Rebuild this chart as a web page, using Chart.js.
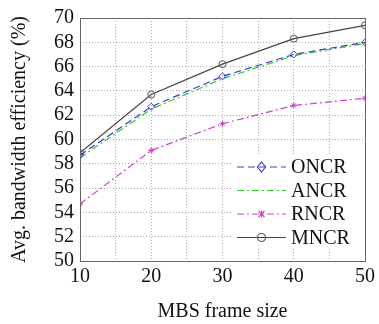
<!DOCTYPE html>
<html>
<head>
<meta charset="utf-8">
<script src="https://cdn.jsdelivr.net/npm/chart.js@4/dist/chart.umd.min.js"></script>
<style>
  html, body { margin: 0; padding: 0; background: #fff; }
  #wrap { width: 379px; height: 324px; }
</style>
</head>
<body>
<div id="wrap"><canvas id="chart" width="379" height="324"></canvas></div>
<script>
var frameSizes = [10, 20, 30, 40, 50];
var oncr = [58.7, 62.7, 65.2, 67.0, 68.0];
var ancr = [58.5, 62.5, 65.0, 66.9, 67.9];
var rncr = [54.7, 59.1, 61.3, 62.8, 63.4];
var mncr = [58.9, 63.7, 66.2, 68.3, 69.4];
var yTicks = [50, 52, 54, 56, 58, 60, 62, 64, 66, 68, 70];

function pts(vals) {
  return vals.map(function (v, i) { return { x: frameSizes[i], y: v }; });
}

var serif = "'Liberation Serif', 'Times New Roman', serif";

// box around the plot + legend drawn like the matlab one
var frameAndLegend = {
  id: 'frameAndLegend',
  afterDraw: function (chart) {
    var c = chart.ctx, a = chart.chartArea;
    c.save();
    c.strokeStyle = '#666';
    c.lineWidth = 1;
    c.setLineDash([]);
    c.strokeRect(a.left + 0.5, a.top + 0.5, a.right - a.left, a.bottom - a.top);

    var x0 = 237, x1 = 286, y = 167, step = 23.5;
    c.fillStyle = '#fff';
    c.fillRect(x0 - 5, y - 12, 132, step * 4);
    chart.data.datasets.forEach(function (ds, i) {
      var yy = y + i * step;
      c.strokeStyle = ds.borderColor;
      c.lineWidth = 1.2;
      c.setLineDash(ds.borderDash || []);
      c.beginPath(); c.moveTo(x0, yy); c.lineTo(x1, yy); c.stroke();
      c.setLineDash([]);
      var mx = (x0 + x1) / 2, r = 4;
      c.strokeStyle = ds.pointBorderColor;
      c.beginPath();
      if (ds.pointStyle === 'rectRot') {
        c.moveTo(mx, yy - r - 1); c.lineTo(mx + r, yy); c.lineTo(mx, yy + r + 1); c.lineTo(mx - r, yy); c.closePath();
      } else if (ds.pointStyle === 'circle') {
        c.arc(mx, yy, r, 0, Math.PI * 2);
      } else if (ds.pointStyle === 'star') {
        c.moveTo(mx - 3, yy - 3); c.lineTo(mx + 3, yy + 3);
        c.moveTo(mx + 3, yy - 3); c.lineTo(mx - 3, yy + 3);
        c.moveTo(mx, yy - 3.5); c.lineTo(mx, yy + 3.5);
      }
      if (ds.pointRadius > 0) c.stroke();
      c.fillStyle = '#111';
      c.font = '20px ' + serif;
      c.textBaseline = 'middle';
      c.fillText(ds.label, 291, yy + 1);
    });
    c.restore();
  }
};

new Chart(document.getElementById('chart').getContext('2d'), {
  type: 'line',
  data: {
    datasets: [
      { label: 'ONCR', data: pts(oncr), borderColor: '#3a3ad0', borderDash: [7, 4], borderWidth: 1.2,
        pointStyle: 'rectRot', pointRadius: 3.5, pointBorderColor: '#3a3ad0', pointBackgroundColor: 'rgba(0,0,0,0)', pointBorderWidth: 1 },
      { label: 'ANCR', data: pts(ancr), borderColor: '#33cc33', borderDash: [7, 3, 2, 3], borderWidth: 1.2,
        pointStyle: 'circle', pointRadius: 0, pointBorderColor: '#33cc33' },
      { label: 'RNCR', data: pts(rncr), borderColor: '#d040d0', borderDash: [7, 3, 2, 3], borderWidth: 1.2,
        pointStyle: 'star', pointRadius: 3, pointBorderColor: '#d040d0', pointBackgroundColor: 'rgba(0,0,0,0)', pointBorderWidth: 1 },
      { label: 'MNCR', data: pts(mncr), borderColor: '#444', borderWidth: 1.2,
        pointStyle: 'circle', pointRadius: 3.5, pointBorderColor: '#555', pointBackgroundColor: 'rgba(0,0,0,0)', pointBorderWidth: 1 }
    ]
  },
  options: {
    responsive: false,
    animation: false,
    layout: { padding: { top: 18, right: 9, left: 0, bottom: 0 } },
    plugins: { legend: { display: false }, tooltip: { enabled: false } },
    scales: {
      x: {
        type: 'linear', min: 10, max: 50,
        afterFit: function (s) { s.height = 63; },
        afterBuildTicks: function (s) {
          s.ticks = [10, 15, 20, 25, 30, 35, 40, 45, 50].map(function (v) { return { value: v }; });
        },
        grid: { color: '#aaa', tickLength: 0, drawTicks: false },
        border: { display: false, dash: [1, 2] },
        ticks: {
          padding: 4, color: '#111', maxRotation: 0, autoSkip: false,
          font: { family: serif, size: 20 },
          callback: function (v) { return v % 10 === 0 ? v : ''; }
        },
        title: { display: true, text: 'MBS frame size', color: '#111', padding: { top: 16, bottom: 0 },
          font: { family: serif, size: 20 } }
      },
      y: {
        min: 50, max: 70,
        afterFit: function (s) { s.width = 80; },
        afterBuildTicks: function (s) {
          s.ticks = yTicks.map(function (v) { return { value: v }; });
        },
        grid: { color: '#aaa', drawTicks: false },
        border: { display: false, dash: [1, 2] },
        ticks: { padding: 6, color: '#111', autoSkip: false, font: { family: serif, size: 20 } },
        title: { display: true, text: 'Avg. bandwidth efficiency (%)', color: '#111', padding: { bottom: 0, top: 8 },
          font: { family: serif, size: 20 } }
      }
    }
  },
  plugins: [frameAndLegend]
});
</script>
</body>
</html>
